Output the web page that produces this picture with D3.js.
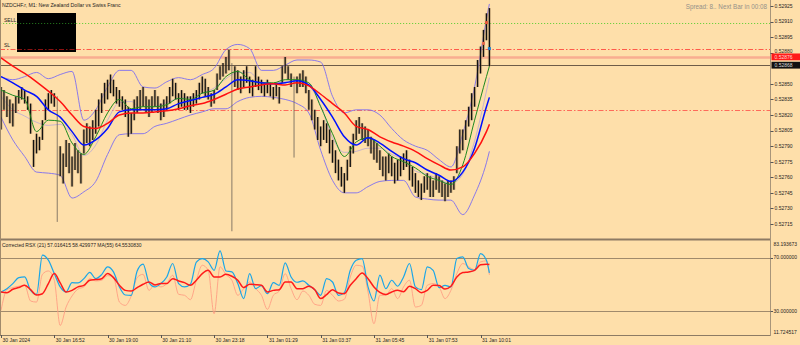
<!DOCTYPE html>
<html lang="en">
<head>
<meta charset="utf-8">
<title>NZDCHF.r M1</title>
<script src="https://d3js.org/d3.v7.min.js"></script>
<style>
  body { margin: 0; background: #fedfaa; }
  svg { display: block; }
  text { font-family: "Liberation Sans", Arial, sans-serif; fill: #1e1e1e; }
</style>
</head>
<body>
<div id="chart"></div>
<script>
//sizes
var w = 800, h = 345;
var mainTop = 0, mainBottom = 238, subTop = 240, subBottom = 335, axisX = 770.5;

//candles (M1 bars grouped), high and low
var highs = [0.52847,0.52844,0.52838,0.52835,0.52831,0.52838,0.52844,0.52847,0.52844,0.52838,
  0.52831,0.52796,0.52802,0.52799,0.52815,0.52835,0.52841,0.52844,0.52841,0.52838,
  0.52790,0.52783,0.52796,0.52793,0.52780,0.52793,0.52786,0.52783,0.52806,0.52812,
  0.52809,0.52815,0.52825,0.52835,0.52841,0.52851,0.52854,0.52859,0.52854,0.52847,
  0.52844,0.52838,0.52835,0.52828,0.52822,0.52835,0.52838,0.52844,0.52847,0.52838,
  0.52835,0.52838,0.52844,0.52838,0.52831,0.52835,0.52838,0.52847,0.52855,0.52851,
  0.52841,0.52844,0.52841,0.52838,0.52838,0.52841,0.52844,0.52851,0.52857,0.52855,
  0.52847,0.52841,0.52844,0.52860,0.52867,0.52870,0.52876,0.52883,0.52870,0.52867,
  0.52863,0.52857,0.52863,0.52867,0.52857,0.52854,0.52867,0.52857,0.52854,0.52851,
  0.52854,0.52851,0.52847,0.52851,0.52847,0.52867,0.52876,0.52867,0.52860,0.52857,
  0.52857,0.52860,0.52863,0.52857,0.52844,0.52835,0.52825,0.52818,0.52809,0.52815,
  0.52812,0.52806,0.52796,0.52786,0.52777,0.52770,0.52764,0.52777,0.52790,0.52802,
  0.52815,0.52818,0.52812,0.52809,0.52806,0.52799,0.52796,0.52793,0.52786,0.52780,
  0.52780,0.52783,0.52780,0.52774,0.52777,0.52780,0.52783,0.52786,0.52777,0.52770,
  0.52764,0.52757,0.52754,0.52761,0.52764,0.52761,0.52757,0.52764,0.52761,0.52757,
  0.52754,0.52757,0.52757,0.52761,0.52790,0.52806,0.52806,0.52815,0.52828,0.52841,
  0.52847,0.52873,0.52886,0.52902,0.52918,0.52923];
var lows = [0.52806,0.52825,0.52818,0.52812,0.52809,0.52822,0.52831,0.52835,0.52831,0.52825,
  0.52802,0.52770,0.52783,0.52786,0.52796,0.52815,0.52825,0.52831,0.52828,0.52717,
  0.52761,0.52754,0.52770,0.52764,0.52751,0.52767,0.52764,0.52754,0.52783,0.52793,
  0.52790,0.52796,0.52802,0.52809,0.52822,0.52831,0.52835,0.52841,0.52838,0.52831,
  0.52828,0.52825,0.52818,0.52799,0.52802,0.52815,0.52822,0.52825,0.52828,0.52822,
  0.52818,0.52822,0.52828,0.52822,0.52815,0.52818,0.52825,0.52831,0.52838,0.52835,
  0.52825,0.52828,0.52825,0.52825,0.52822,0.52828,0.52831,0.52835,0.52841,0.52838,
  0.52835,0.52828,0.52831,0.52844,0.52854,0.52857,0.52860,0.52863,0.52708,0.52847,
  0.52844,0.52841,0.52847,0.52851,0.52841,0.52838,0.52847,0.52844,0.52841,0.52838,
  0.52841,0.52838,0.52835,0.52838,0.52831,0.52851,0.52860,0.52854,0.52847,0.52779,
  0.52841,0.52847,0.52847,0.52841,0.52825,0.52815,0.52806,0.52796,0.52790,0.52796,
  0.52793,0.52783,0.52774,0.52764,0.52757,0.52751,0.52745,0.52757,0.52770,0.52783,
  0.52796,0.52802,0.52796,0.52793,0.52790,0.52783,0.52777,0.52774,0.52767,0.52761,
  0.52757,0.52764,0.52761,0.52754,0.52757,0.52761,0.52767,0.52770,0.52757,0.52751,
  0.52745,0.52741,0.52738,0.52745,0.52748,0.52741,0.52741,0.52748,0.52745,0.52741,
  0.52737,0.52741,0.52745,0.52748,0.52764,0.52783,0.52786,0.52796,0.52809,0.52815,
  0.52828,0.52847,0.52860,0.52876,0.52892,0.52867];

//moving averages and bands, read every 4th bar (+ last bar)
var maIdx = d3.range(0, 165, 4).concat([165]);
var maRed = [0.52875,0.52867,0.52860,0.52852,0.52843,0.52833,0.52820,0.52809,0.52807,0.52812,
  0.52820,0.52822,0.52822,0.52823,0.52824,0.52826,0.52829,0.52831,0.52835,0.52840,
  0.52845,0.52847,0.52849,0.52850,0.52849,0.52851,0.52848,0.52840,0.52831,0.52822,
  0.52809,0.52806,0.52799,0.52794,0.52790,0.52785,0.52778,0.52772,0.52767,0.52770,
  0.52783,0.52804,0.52811];
var maBlue = [0.52857,0.52851,0.52844,0.52838,0.52825,0.52818,0.52804,0.52791,0.52796,0.52807,
  0.52823,0.52825,0.52825,0.52825,0.52826,0.52831,0.52834,0.52837,0.52840,0.52847,
  0.52854,0.52853,0.52851,0.52850,0.52851,0.52853,0.52849,0.52835,0.52818,0.52799,
  0.52791,0.52798,0.52793,0.52785,0.52778,0.52774,0.52767,0.52762,0.52756,0.52765,
  0.52788,0.52828,0.52837];
var maGreen = [0.52844,0.52839,0.52835,0.52804,0.52815,0.52814,0.52793,0.52782,0.52799,0.52822,
  0.52835,0.52826,0.52828,0.52828,0.52830,0.52836,0.52835,0.52841,0.52844,0.52857,
  0.52862,0.52854,0.52851,0.52851,0.52854,0.52854,0.52851,0.52828,0.52802,0.52780,
  0.52794,0.52798,0.52790,0.52780,0.52775,0.52769,0.52761,0.52757,0.52753,0.52772,
  0.52815,0.52857,0.52867];
var bandUpper = [0.52857,0.52854,0.52857,0.52861,0.52855,0.52859,0.52862,0.52815,0.52825,0.52847,
  0.52863,0.52863,0.52847,0.52846,0.52852,0.52856,0.52854,0.52859,0.52865,0.52883,
  0.52888,0.52884,0.52863,0.52863,0.52868,0.52873,0.52873,0.52871,0.52838,0.52822,
  0.52825,0.52825,0.52820,0.52807,0.52796,0.52790,0.52786,0.52777,0.52770,0.52802,
  0.52847,0.52912,0.52927];
var bandMid = [0.52838,0.52825,0.52819,0.52813,0.52810,0.52811,0.52801,0.52781,0.52791,0.52815,
  0.52832,0.52833,0.52825,0.52828,0.52832,0.52836,0.52837,0.52841,0.52846,0.52855,
  0.52861,0.52861,0.52851,0.52850,0.52852,0.52852,0.52848,0.52829,0.52798,0.52784,
  0.52785,0.52788,0.52788,0.52782,0.52777,0.52766,0.52763,0.52758,0.52754,0.52763,
  0.52795,0.52843,0.52856];
var bandLower = [0.52818,0.52796,0.52780,0.52765,0.52764,0.52762,0.52740,0.52746,0.52756,0.52782,
  0.52801,0.52802,0.52802,0.52809,0.52812,0.52816,0.52820,0.52823,0.52826,0.52826,
  0.52833,0.52837,0.52838,0.52837,0.52835,0.52831,0.52822,0.52786,0.52757,0.52745,
  0.52745,0.52751,0.52756,0.52757,0.52757,0.52741,0.52739,0.52738,0.52738,0.52724,
  0.52743,0.52774,0.52785];

//Corrected RSX panel, read every 2nd bar (+ last bar)
var rsxIdx = d3.range(0, 165, 2).concat([165]);
var rsxMain = [44.1,46.6,50.4,54.9,55.4,45.3,42.3,71.8,68.0,57.9,
  47.9,44.1,51.1,50.9,54.1,58.9,54.1,57.2,63.0,59.2,
  47.9,41.8,41.6,59.9,65.0,51.1,47.9,50.4,55.4,65.5,
  50.4,47.9,49.9,66.5,69.2,66.7,60.4,75.0,59.9,59.2,
  50.4,39.1,57.9,46.6,48.9,42.8,51.1,49.1,66.0,55.4,
  51.4,52.4,49.1,45.8,41.6,54.1,51.6,41.6,43.6,60.4,
  68.0,69.2,47.9,37.3,56.7,46.6,52.9,48.4,55.4,65.5,
  47.9,45.8,63.0,60.4,47.4,49.1,47.9,69.2,70.5,61.7,
  60.4,73.0,68.0,58.4];
var rsxFast = [30.2,45.8,47.4,48.4,49.1,37.3,36.5,57.4,59.9,52.9,
  18.9,32.8,41.1,46.3,47.9,54.1,52.4,52.9,56.4,55.4,
  36.5,34.0,41.1,54.9,57.4,45.3,49.9,47.9,50.4,56.7,
  42.3,41.6,38.3,52.9,64.2,60.4,27.7,63.0,57.2,52.9,
  41.6,46.6,51.6,46.6,41.6,31.0,41.6,44.8,57.9,46.6,
  38.3,44.8,41.6,34.8,34.0,45.3,41.6,37.3,38.6,55.4,
  64.2,63.5,44.1,20.2,41.6,41.6,46.6,39.1,47.9,52.9,
  32.8,34.0,49.1,50.4,47.9,39.1,45.3,57.9,65.5,63.0,
  60.9,66.7,67.5,57.0];
var rsxMa = [44.1,43.6,46.1,47.4,49.1,45.8,41.8,42.8,50.4,57.9,
  50.9,44.1,45.3,47.9,49.1,52.9,53.4,54.1,57.9,54.9,
  49.1,45.3,44.8,47.4,49.9,51.6,49.4,50.4,50.4,54.1,
  52.4,51.1,49.1,52.9,57.9,60.4,55.4,55.4,57.4,55.9,
  52.9,47.4,49.9,49.6,49.1,44.1,45.3,45.8,51.6,51.6,
  46.6,46.6,48.4,45.8,39.1,42.1,45.8,43.3,42.8,49.1,
  54.1,58.4,54.1,47.9,43.8,42.1,44.1,45.3,44.3,48.4,
  46.6,43.6,45.3,49.1,48.9,46.3,48.4,55.4,58.7,59.2,
  60.4,64.5,65.0,64.7];

//labels and levels
var timeLabels = ["30 Jan 2024","30 Jan 16:52","30 Jan 19:00","30 Jan 21:10","30 Jan 23:18",
  "31 Jan 01:29","31 Jan 03:37","31 Jan 05:45","31 Jan 07:53","31 Jan 10:01"];
var barsPerLabel = 18;
// 0.52865 sits under the price boxes, so it is not listed
var priceTicks = [0.52715,0.52730,0.52745,0.52760,0.52775,0.52790,0.52805,0.52820,
  0.52835,0.52850,0.52880,0.52895,0.52910,0.52925];
var levelPrices = [0.52909, 0.52884, 0.52876, 0.52868, 0.52825];   // sell, SL, ask, bid, lower level
var rsxRange = [11.724517, 83.193673];
var rsxLevels = [70, 30];
var tradeMarks = [[164, 0.52909], [163, 0.52889], [165, 0.52884]];

//scales
var x = d3.scaleLinear().domain([0, 260]).range([1, 770.6]);
var y = d3.scaleLinear().domain([0.527015, 0.529308]).range([mainBottom, mainTop]);
var yr = d3.scaleLinear().domain(rsxRange).range([subBottom, subTop]);

var svg = d3.select("#chart").append("svg")
            .attr("width", w)
            .attr("height", h);

svg.append("rect").attr("width", w).attr("height", h).attr("fill", "#fedfaa");

svg.append("clipPath").attr("id", "clipMain")
   .append("rect").attr("x", 0).attr("y", mainTop).attr("width", axisX).attr("height", mainBottom - mainTop);
svg.append("clipPath").attr("id", "clipSub")
   .append("rect").attr("x", 0).attr("y", subTop).attr("width", axisX).attr("height", subBottom - subTop);

var main = svg.append("g").attr("clip-path", "url(#clipMain)");
var sub = svg.append("g").attr("clip-path", "url(#clipSub)");

//black info box
main.append("rect")
    .attr("x", 17).attr("y", 13).attr("width", 59).attr("height", 39)
    .attr("fill", "#000");

//horizontal levels
var levelStyle = [
  {c: "#6fd040", dash: "1.2,1.8", sw: 1},
  {c: "#ff5a4a", dash: "5,2,1.5,2", sw: 1.1},
  {c: "#f8ad90", dash: null, sw: 2.4},
  {c: "#6e5c48", dash: null, sw: 1},
  {c: "#ff6a5a", dash: "5,2,1.5,2", sw: 1}
];
main.selectAll(".lvl")
    .data(levelPrices)
    .enter()
    .append("line")
    .attr("x1", function(d,i){ return i < 2 ? 76 : 0; })
    .attr("x2", axisX)
    .attr("y1", function(d){ return Math.round(y(d)) + 0.5; })
    .attr("y2", function(d){ return Math.round(y(d)) + 0.5; })
    .attr("stroke", function(d,i){ return levelStyle[i].c; })
    .attr("stroke-width", function(d,i){ return levelStyle[i].sw; })
    .attr("stroke-dasharray", function(d,i){ return levelStyle[i].dash; });
//the same two levels left of / through the box, darker inside it
[0, 1].forEach(function(k){
  var yy = Math.round(y(levelPrices[k])) + 0.5;
  main.append("line").attr("x1", 0).attr("x2", 17).attr("y1", yy).attr("y2", yy)
      .attr("stroke", levelStyle[k].c).attr("stroke-dasharray", levelStyle[k].dash);
  main.append("line").attr("x1", 17).attr("x2", 76).attr("y1", yy).attr("y2", yy)
      .attr("stroke", k == 0 ? "#1f6a1a" : "#8a1010").attr("stroke-dasharray", levelStyle[k].dash);
});
main.append("text").attr("x", 4).attr("y", 21.5).attr("font-size", 5).text("SELL");
main.append("text").attr("x", 4).attr("y", 47).attr("font-size", 5).text("SL");

//bands
function bandLine(data){
  return d3.line()
           .x(function(d,k){ return x(maIdx[k]); })
           .y(function(d){ return y(d); })
           .curve(d3.curveMonotoneX)(data);
}
[bandUpper, bandLower].forEach(function(b){
  main.append("path").attr("d", bandLine(b))
      .attr("fill", "none").attr("stroke", "#7d6df0").attr("stroke-width", 0.9);
});
main.append("path").attr("d", bandLine(bandMid))
    .attr("fill", "none").attr("stroke", "#9a90e8").attr("stroke-width", 0.7).attr("opacity", 0.8);

//candles: tan shade then dark bar, long single wicks kept thin
function isSpike(d,i){ return (d - lows[i]) > 0.0006; }
main.selectAll(".shade")
    .data(highs)
    .enter()
    .append("line")
    .attr("x1", function(d,i){ return x(i); })
    .attr("x2", function(d,i){ return x(i); })
    .attr("y1", function(d){ return y(d); })
    .attr("y2", function(d,i){ return isSpike(d,i) ? y(d) : y(lows[i]); })
    .attr("stroke", "#a8845a").attr("stroke-width", 3.2).attr("opacity", 0.4);
main.selectAll(".bar")
    .data(highs)
    .enter()
    .append("line")
    .attr("x1", function(d,i){ return x(i); })
    .attr("x2", function(d,i){ return x(i); })
    .attr("y1", function(d){ return y(d); })
    .attr("y2", function(d,i){ return y(lows[i]); })
    .attr("stroke", function(d,i){ return isSpike(d,i) ? "#6a6056" : "#111"; })
    .attr("stroke-width", function(d,i){ return isSpike(d,i) ? 0.8 : 1.3; });

//moving averages
main.append("path").attr("d", bandLine(maGreen))
    .attr("fill", "none").attr("stroke", "#1f8a1f").attr("stroke-width", 1);
main.append("path").attr("d", bandLine(maBlue))
    .attr("fill", "none").attr("stroke", "#0010ff").attr("stroke-width", 1.5);
main.append("path").attr("d", bandLine(maRed))
    .attr("fill", "none").attr("stroke", "#ff1010").attr("stroke-width", 1.5);

//trade marks
var markColor = ["#e85a3c", "#e86a4c", "#1e7fd0"];
main.selectAll(".mark")
    .data(tradeMarks)
    .enter()
    .append("rect")
    .attr("x", function(d){ return x(d[0]) - 1.5; })
    .attr("y", function(d){ return y(d[1]) - 1.5; })
    .attr("width", 3).attr("height", 3)
    .attr("fill", function(d,i){ return markColor[i]; });

//titles
svg.append("text").attr("x", 2).attr("y", 7).attr("font-size", 5.2)
   .text("NZDCHF.r, M1:  New Zealand Dollar vs Swiss Franc");
svg.append("text").attr("x", 767).attr("y", 9).attr("text-anchor", "end")
   .attr("font-family", "Liberation Mono, monospace").attr("font-size", 6.3)
   .style("fill", "#959089")
   .text("Spread: 8.. Next Bar in 00:08");

//RSX panel
sub.selectAll(".rlvl")
   .data(rsxLevels)
   .enter()
   .append("line")
   .attr("x1", 0).attr("x2", axisX)
   .attr("y1", function(d){ return Math.round(yr(d)) + 0.5; })
   .attr("y2", function(d){ return Math.round(yr(d)) + 0.5; })
   .attr("stroke", "#a08a6c").attr("stroke-width", 1);

function rsxLine(data){
  return d3.line()
           .x(function(d,k){ return x(rsxIdx[k]); })
           .y(function(d){ return yr(d); })
           .curve(d3.curveMonotoneX)(data);
}
sub.append("path").attr("d", rsxLine(rsxFast))
   .attr("fill", "none").attr("stroke", "#ff9f84").attr("stroke-width", 1).attr("opacity", 0.9);
sub.append("path").attr("d", rsxLine(rsxMain))
   .attr("fill", "none").attr("stroke", "#1aa6e8").attr("stroke-width", 1.2);
sub.append("path").attr("d", rsxLine(rsxMa))
   .attr("fill", "none").attr("stroke", "#ff1a1a").attr("stroke-width", 1.5);

svg.append("text").attr("x", 2).attr("y", 247).attr("font-size", 5)
   .text("Corrected RSX (21) 57.016415 58.429977 MA(55) 64.5530830");

//frame lines
svg.append("line").attr("x1", 0).attr("x2", axisX).attr("y1", 239.5).attr("y2", 239.5)
   .attr("stroke", "#8d7b64").attr("stroke-width", 2);
svg.append("line").attr("x1", 0).attr("x2", axisX).attr("y1", subBottom + 0.5).attr("y2", subBottom + 0.5)
   .attr("stroke", "#8d7b64").attr("stroke-width", 1);
svg.append("line").attr("x1", 0.5).attr("x2", 0.5).attr("y1", 0).attr("y2", subBottom)
   .attr("stroke", "#a08a6c").attr("stroke-width", 1);
svg.append("line").attr("x1", axisX).attr("x2", axisX).attr("y1", 0).attr("y2", subBottom + 1)
   .attr("stroke", "#a8957a").attr("stroke-width", 1);

//price axis
var pAxis = svg.append("g");
pAxis.selectAll(".pt")
     .data(priceTicks)
     .enter()
     .append("line")
     .attr("x1", axisX).attr("x2", axisX + 3)
     .attr("y1", function(d){ return Math.round(y(d)) + 0.5; })
     .attr("y2", function(d){ return Math.round(y(d)) + 0.5; })
     .attr("stroke", "#555");
pAxis.selectAll(".pl")
     .data(priceTicks)
     .enter()
     .append("text")
     .attr("x", axisX + 4)
     .attr("y", function(d){
        var yy = y(d) + 1.8;
        // the label just above the ask box is pushed up a little
        if (Math.abs(y(d) - y(levelPrices[2])) < 6) yy -= 1.6;
        return yy;
     })
     .attr("font-size", 5)
     .text(function(d){ return d.toFixed(5); });

//current price boxes
var boxFill = {2: "#ff1a1a", 3: "#111111"};
[2, 3].forEach(function(k){
  var yy = y(levelPrices[k]);
  pAxis.append("rect").attr("x", axisX + 1).attr("y", yy - 3.4)
       .attr("width", 29).attr("height", 6.8).attr("fill", boxFill[k]);
  pAxis.append("text").attr("x", axisX + 4).attr("y", yy + 1.8)
       .attr("font-size", 5).style("fill", k == 2 ? "#ffd6d0" : "#d8d8d8")
       .text(levelPrices[k].toFixed(5));
});

//RSX axis labels
var rsxAxisVals = [rsxRange[1], 70, 30, rsxRange[0]];
pAxis.selectAll(".rl")
     .data(rsxAxisVals)
     .enter()
     .append("text")
     .attr("x", axisX + 3)
     .attr("y", function(d,i){
        var yy = yr(d);
        if (i == 0) yy += 4;
        if (i == 3) yy -= 2.5;
        return yy + 1.8;
     })
     .attr("font-size", 5)
     .text(function(d){ return d.toFixed(6); });
pAxis.selectAll(".rt")
     .data(rsxLevels)
     .enter()
     .append("line")
     .attr("x1", axisX).attr("x2", axisX + 2.5)
     .attr("y1", function(d){ return Math.round(yr(d)) + 0.5; })
     .attr("y2", function(d){ return Math.round(yr(d)) + 0.5; })
     .attr("stroke", "#555");

//time axis
var tAxis = svg.append("g");
tAxis.selectAll(".tt")
     .data(timeLabels)
     .enter()
     .append("line")
     .attr("x1", function(d,i){ return Math.round(x(i * barsPerLabel)) + 0.5; })
     .attr("x2", function(d,i){ return Math.round(x(i * barsPerLabel)) + 0.5; })
     .attr("y1", subBottom).attr("y2", subBottom + 3)
     .attr("stroke", "#555");
tAxis.selectAll(".tl")
     .data(timeLabels)
     .enter()
     .append("text")
     .attr("x", function(d,i){ return x(i * barsPerLabel) + 1.5; })
     .attr("y", 342)
     .attr("font-size", 5)
     .text(function(d){ return d; });
</script>
</body>
</html>
